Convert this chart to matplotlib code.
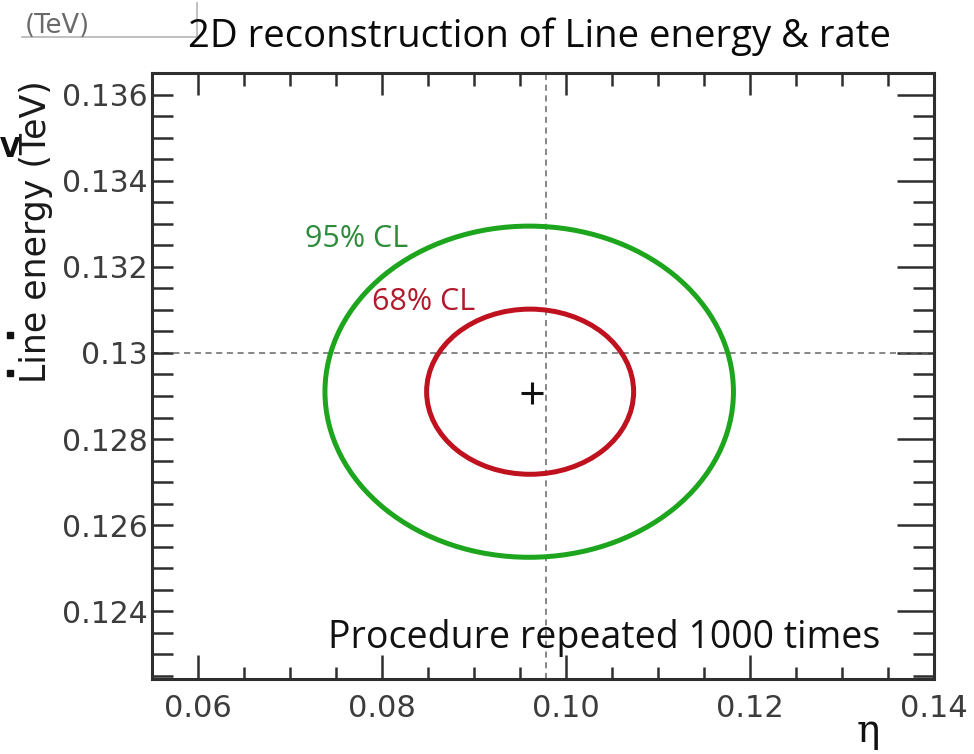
import matplotlib
matplotlib.use("Agg")
import matplotlib.pyplot as plt
from matplotlib.patches import Ellipse
from matplotlib.lines import Line2D
from matplotlib.ticker import FixedLocator, MultipleLocator

# reconstructed best-fit point (eta, line energy in TeV)
best_eta = 0.0963
best_energy = 0.12907

# confidence contours: 95% CL and 68% CL ellipses around the fit
contour_names = ["95% CL", "68% CL"]
contour_center_eta = [0.0960, 0.0961]
contour_center_energy = [0.12910, 0.12910]
contour_half_eta = [0.02220, 0.01125]
contour_half_energy = [0.00385, 0.00192]

# injected (true) values
true_eta = 0.0978
true_energy = 0.130

x_ticks = [0.06, 0.08, 0.10, 0.12, 0.14]
x_ticklabels = ["0.06", "0.08", "0.10", "0.12", "0.14"]
y_ticks = [0.124, 0.126, 0.128, 0.13, 0.132, 0.134, 0.136]
y_ticklabels = ["0.124", "0.126", "0.128", "0.13", "0.132", "0.134", "0.136"]

W, H = 974, 754
fig = plt.figure(figsize=(W / 100, H / 100), dpi=100)
ax = fig.add_axes([152 / W, 75 / H, 782 / W, 606 / H])

ax.set_xlim(0.055, 0.14)
ax.set_ylim(0.12242, 0.13651)

frame = "#2e2e2e"
for sp in ax.spines.values():
    sp.set_linewidth(2.2)
    sp.set_color(frame)

ax.xaxis.set_major_locator(FixedLocator(x_ticks))
ax.set_xticklabels(x_ticklabels)
ax.yaxis.set_major_locator(FixedLocator(y_ticks))
ax.set_yticklabels(y_ticklabels)
ax.xaxis.set_minor_locator(MultipleLocator(0.005))
ax.yaxis.set_minor_locator(MultipleLocator(0.0005))

ax.tick_params(axis="x", which="major", direction="in", length=17, width=1.8,
               color=frame, pad=11, labelsize=22, labelcolor="#3c3c3c")
ax.tick_params(axis="x", which="minor", direction="in", length=9, width=1.8,
               color=frame)
ax.tick_params(axis="y", which="both", direction="in", length=15, width=1.8,
               color=frame, pad=3, labelsize=21.5, labelcolor="#3c3c3c")
for lab in ax.get_xticklabels() + ax.get_yticklabels():
    lab.set_family("DejaVu Sans")

# ticks on the opposite sides, ROOT style
top = ax.secondary_xaxis("top")
top.xaxis.set_major_locator(FixedLocator(x_ticks))
top.xaxis.set_minor_locator(MultipleLocator(0.005))
top.tick_params(which="major", direction="in", length=16, width=1.8,
                color=frame, labeltop=False)
top.tick_params(which="minor", direction="in", length=9, width=1.8,
                color=frame)
top.spines["top"].set_visible(False)

right = ax.secondary_yaxis("right")
right.yaxis.set_major_locator(FixedLocator(y_ticks))
right.yaxis.set_minor_locator(MultipleLocator(0.0005))
right.tick_params(which="major", direction="in", length=27, width=1.8,
                  color=frame, labelright=False)
right.tick_params(which="minor", direction="in", length=15, width=1.8,
                  color=frame)
right.spines["right"].set_visible(False)

# true values
dash = dict(color="#666666", lw=1.1, ls=(0, (4, 3)), zorder=1)
ax.axhline(true_energy, **dash)
ax.axvline(true_eta, **dash)

# contours
line_colors = ["#1ea51e", "#c0111f"]
text_colors = ["#2e8b3a", "#b01a2b"]
text_pos = [(0.0716, 0.13247), (0.0789, 0.13100)]
for i, name in enumerate(contour_names):
    ell = Ellipse((contour_center_eta[i], contour_center_energy[i]),
                  2 * contour_half_eta[i], 2 * contour_half_energy[i],
                  fill=False, ec=line_colors[i], lw=3.6, zorder=3)
    ax.add_patch(ell)
    ax.text(*text_pos[i], name, color=text_colors[i], fontsize=22,
            family="Open Sans", va="baseline", zorder=4)

ax.plot(best_eta, best_energy, marker="+", ms=16, mew=2.2, color="#111111",
        ls="none", zorder=5)

ax.text(0.225, 0.0512, "Procedure repeated 1000 times", transform=ax.transAxes,
        fontsize=27, family="Open Sans", va="baseline", color="#111111")

# titles and axis labels
fig.text(539 / W, 1 - 47 / H, "2D reconstruction of Line energy & rate",
         ha="center", va="baseline", fontsize=27.5, family="Open Sans",
         color="#0a0a0a")
fig.text(36 / W, 1 - 232 / H, "Line energy (TeV)", rotation=90,
         ha="center", va="center", fontsize=25, family="DejaVu Sans",
         color="#1a1a1a")
fig.text(868 / W, 1 - 731 / H, "η", ha="center", va="center",
         fontsize=28, family="DejaVu Serif", color="#111111")

# leftover slide fragments at the top-left
fig.text(25 / W, 1 - 26 / H, "(TeV)", ha="left", va="center", fontsize=18.5,
         family="DejaVu Sans", color="#6a6a6a")
fig.add_artist(Line2D([22 / W, 197 / W], [1 - 37 / H, 1 - 37 / H],
                      transform=fig.transFigure, color="#b5b5b5", lw=1.2))
fig.add_artist(Line2D([197 / W, 197 / W], [1 - 3 / H, 1 - 37 / H],
                      transform=fig.transFigure, color="#b5b5b5", lw=1.2))
fig.text(0, 1 - 157 / H, "V", ha="left", va="baseline", fontsize=19,
         family="DejaVu Sans", weight="bold", color="#111111")
fig.add_artist(Line2D([10 / W, 10 / W], [1 - 335 / H, 1 - 373 / H],
                      transform=fig.transFigure, marker="s", ms=5, ls="none",
                      color="#111111"))

fig.savefig("out.png", dpi=100)
